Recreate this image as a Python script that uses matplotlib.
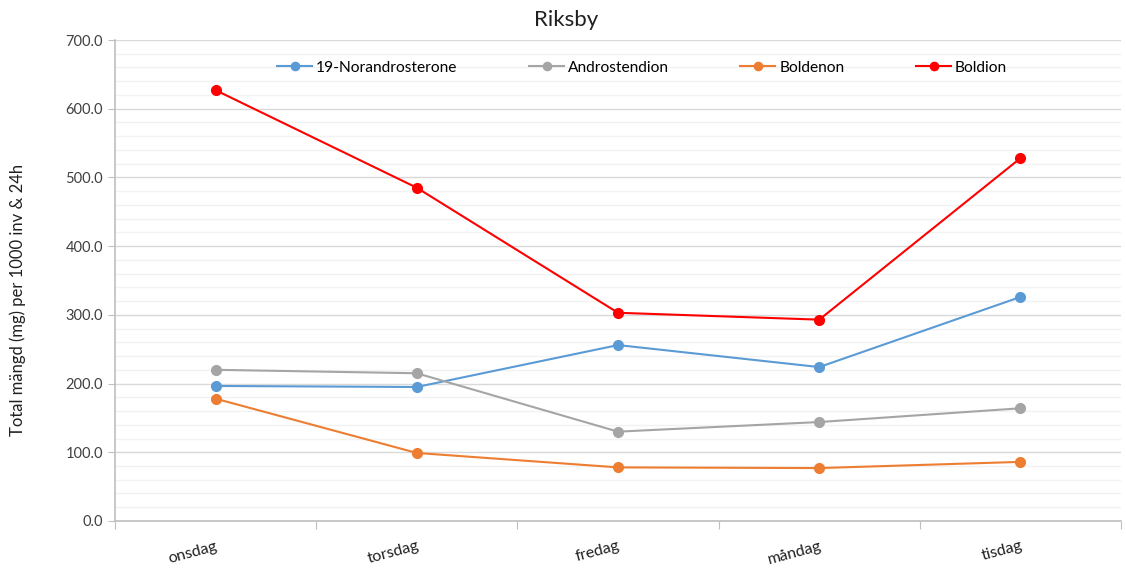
import matplotlib
matplotlib.use("Agg")
import matplotlib.pyplot as plt
from matplotlib.ticker import MultipleLocator, FixedLocator, FuncFormatter

plt.rcParams['font.family'] = ['Lato', 'DejaVu Sans']

categories = ["onsdag", "torsdag", "fredag", "måndag", "tisdag"]
norandrosterone = [196.5, 195.0, 256.0, 224.0, 326.0]
androstendion = [220.0, 215.0, 130.0, 144.0, 164.0]
boldenon = [178.0, 99.0, 78.0, 77.0, 86.0]
boldion = [627.0, 485.0, 303.0, 293.0, 528.0]

series = [
    ("19-Norandrosterone", norandrosterone, "#5B9BD5"),
    ("Androstendion", androstendion, "#A5A5A5"),
    ("Boldenon", boldenon, "#ED7D31"),
    ("Boldion", boldion, "#FF0000"),
]

W, H = 1126, 569
fig = plt.figure(figsize=(W / 100, H / 100), dpi=100)
ax = fig.add_axes([0.1021, 0.0844, 0.8935, 0.8453])

x = list(range(len(categories)))
for name, vals, col in series:
    ax.plot(x, vals, color=col, lw=1.5, marker='o', markersize=7, label=name, zorder=3)

ax.set_xlim(-0.5, len(categories) - 0.5)
ax.set_ylim(0, 700)
ax.yaxis.set_major_locator(MultipleLocator(100))
ax.yaxis.set_minor_locator(MultipleLocator(20))
ax.yaxis.set_major_formatter(FuncFormatter(lambda v, p: f"{v:.1f}"))
ax.grid(which='major', axis='y', color='#d9d9d9', lw=1, zorder=0)
ax.grid(which='minor', axis='y', color='#f2f2f2', lw=1, zorder=0)
ax.tick_params(axis='y', which='minor', length=0)
ax.tick_params(axis='y', which='major', length=5, color='#bfbfbf', labelsize=10.5, labelcolor='#404040')

ax.xaxis.set_major_locator(FixedLocator([i - 0.5 for i in range(len(categories) + 1)]))
ax.xaxis.set_major_formatter(FuncFormatter(lambda v, p: ""))
ax.set_xticks(x, minor=True)
ax.set_xticklabels(categories, minor=True, rotation=15, fontsize=11.5, color='#202020',
                   ha='right', rotation_mode='anchor')
ax.tick_params(axis='x', which='minor', length=0, pad=13)
ax.tick_params(axis='x', which='major', length=6, color='#bfbfbf')

for s in ['top', 'right']:
    ax.spines[s].set_visible(False)
for s in ['left', 'bottom']:
    ax.spines[s].set_color('#bfbfbf')
    ax.spines[s].set_linewidth(1.2)

fig.text(566 / W, 1 - 20 / H, "Riksby", fontsize=16, color='#202020', ha='center', va='center')
fig.text(18 / W, 1 - 300 / H, "Total mängd (mg) per 1000 inv & 24h", fontsize=12,
         color='#202020', rotation=90, ha='center', va='center')

ax.legend(loc='center', bbox_to_anchor=(0.524, 0.942), ncol=4, frameon=False,
          fontsize=11.2, handlelength=2.25, columnspacing=4.6, handletextpad=0.25,
          markerscale=0.85)

fig.savefig("out.png", dpi=100)
